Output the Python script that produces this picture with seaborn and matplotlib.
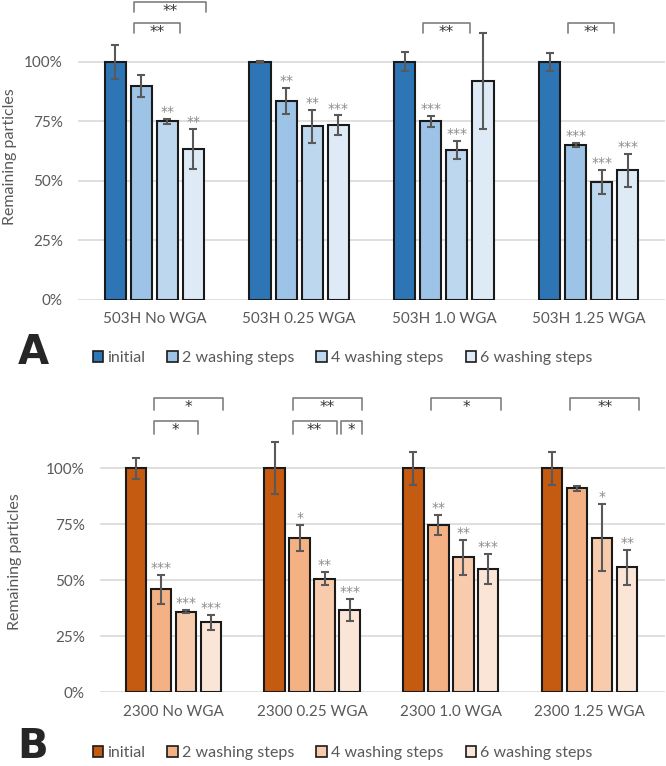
import pandas as pd
import seaborn as sns
import matplotlib.pyplot as plt
from matplotlib.patches import Patch
from matplotlib.ticker import PercentFormatter

# washing steps (hue levels)
steps = ["initial", "2 washing steps", "4 washing steps", "6 washing steps"]

# panel A - 503H
samples_a = ["503H No WGA", "503H 0.25 WGA", "503H 1.0 WGA", "503H 1.25 WGA"]
mean_a = [[100, 90, 75, 63.5], [100, 83.5, 73, 73.5], [100, 75, 63, 92], [100, 65, 49.5, 54.5]]
err_a = [[7, 4.7, 1, 8.5], [0.3, 5.5, 7, 4], [4, 2.4, 3.6, 20], [3.8, 0.8, 5, 7]]
stars_a = [["", "", "**", "**"], ["", "**", "**", "***"], ["", "***", "***", ""], ["", "***", "***", "***"]]
# (sample index, bar i, bar j, label)
brackets_a = [(0, 1, 2, "**"), (0, 1, 3, "**"), (2, 1, 2, "**"), (3, 1, 2, "**")]

# panel B - 2300
samples_b = ["2300 No WGA", "2300 0.25 WGA", "2300 1.0 WGA", "2300 1.25 WGA"]
mean_b = [[100, 46, 36, 31.2], [100, 69, 50.7, 36.7], [100, 74.7, 60.3, 55], [100, 91, 69, 55.8]]
err_b = [[4.6, 6.4, 0.7, 3.3], [11.6, 5.8, 3, 5], [7.4, 4.6, 7.8, 6.7], [7.4, 1, 15, 7.7]]
stars_b = [["", "***", "***", "***"], ["", "*", "**", "***"], ["", "**", "**", "***"], ["", "", "*", "**"]]
brackets_b = [(0, 1, 2, "*"), (0, 1, 3, "*"), (1, 1, 2, "**"), (1, 2, 3, "*"), (1, 1, 3, "**"),
              (2, 1, 3, "*"), (3, 1, 3, "**")]

pal_a = ["#2E75B6", "#9DC3E6", "#BDD7EE", "#DEEBF7"]
pal_b = ["#C55A11", "#F4B183", "#F8CBAD", "#FBE5D6"]

sns.set_style("white")
plt.rcParams["font.family"] = ["Lato", "DejaVu Sans"]

GREY = "#595959"


def to_frame(samples, means, errs):
    rows = []
    for s, m_row, e_row in zip(samples, means, errs):
        for st, m, e in zip(steps, m_row, e_row):
            rows.append({"sample": s, "step": st, "value": m, "err": e})
    return pd.DataFrame(rows)


def panel(ax, samples, means, errs, stars, brackets, pal, ymax, base, lift, tick, lab_xy):
    df = to_frame(samples, means, errs)
    sns.barplot(data=df, x="sample", y="value", hue="step", order=samples, hue_order=steps,
                palette=pal, saturation=1, width=0.72, gap=0.19, edgecolor="#1a1a1a",
                linewidth=1.5, errorbar=None, legend=False, ax=ax, zorder=2)
    bars = list(ax.containers)

    # error bars + stars above bars
    for h, cont in enumerate(bars):
        for s, p in enumerate(cont):
            x = p.get_x() + p.get_width() / 2
            v = means[s][h]
            e = errs[s][h]
            ax.errorbar(x, v, yerr=e, fmt="none", ecolor=GREY, elinewidth=1.5,
                        capsize=3, capthick=1.5, zorder=3)
            if stars[s][h]:
                ax.annotate(stars[s][h], (x, v + e), xytext=(0, 5), textcoords="offset points",
                            ha="center", va="center", color="#8c8c8c", fontsize=10,
                            family="DejaVu Sans")

    # significance brackets
    last_end = {}
    for s, i, j, lab in brackets:
        pi = bars[i][s]
        pj = bars[j][s]
        x0 = pi.get_x() + pi.get_width() * 0.15
        x1 = pj.get_x() + pj.get_width() * 1.1
        level = j - i - 1
        key = (s, level)
        if key in last_end and x0 < last_end[key] + 0.02:
            x0 = last_end[key] + 0.03
        last_end[key] = x1
        y = base + level * lift
        ax.plot([x0, x0, x1, x1], [y - tick, y, y, y - tick], color="#7f7f7f", lw=1.2,
                clip_on=False, zorder=3)
        ax.text((x0 + x1) / 2, y - 0.8, lab, ha="center", va="top", color="#333333",
                fontsize=11, family="DejaVu Sans")

    ax.set_ylim(0, ymax)
    ax.set_yticks([0, 25, 50, 75, 100])
    ax.yaxis.set_major_formatter(PercentFormatter(decimals=0))
    ax.grid(axis="y", color="#d9d9d9", lw=1.2)
    ax.set_axisbelow(True)
    sns.despine(ax=ax, left=True, bottom=True)
    ax.tick_params(axis="y", length=0, pad=11, labelsize=11, labelcolor=GREY)
    ax.tick_params(axis="x", length=0, pad=9, labelsize=11, labelcolor=GREY)
    ax.set_xlabel("")
    ax.set_ylabel("Remaining particles", fontsize=11.5, color=GREY)
    ax.yaxis.set_label_coords(*lab_xy)


fig = plt.figure(figsize=(6.66, 7.66), dpi=100)
ax_a = fig.add_axes([78 / 666, 466 / 766, 587 / 666, 300 / 766])
ax_b = fig.add_axes([100 / 666, 73.7 / 766, 565 / 666, 302.4 / 766])

panel(ax_a, samples_a, mean_a, err_a, stars_a, brackets_a, pal_a, 126, 116.5, 8.8, 4.5, (-0.104, 0.477))
panel(ax_b, samples_b, mean_b, err_b, stars_b, brackets_b, pal_b, 135, 121, 10.5, 5.5, (-0.138, 0.431))

for pal, y, letter, ly in [(pal_a, 358, "A", 353), (pal_b, 753, "B", 747)]:
    handles = [Patch(facecolor=c, edgecolor="#1a1a1a", lw=1.2, label=st) for c, st in zip(pal, steps)]
    fig.legend(handles=handles, loc="center", bbox_to_anchor=(342.5 / 666, 1 - y / 766), ncol=4,
               frameon=False, fontsize=11.5, handlelength=0.65, handleheight=0.65,
               handletextpad=0.25, columnspacing=1.4, labelcolor=GREY)
    fig.text(33 / 666, 1 - ly / 766, letter, fontsize=29, fontweight="bold", ha="center", va="center",
             family="DejaVu Sans")

fig.savefig("out.png", dpi=100)
